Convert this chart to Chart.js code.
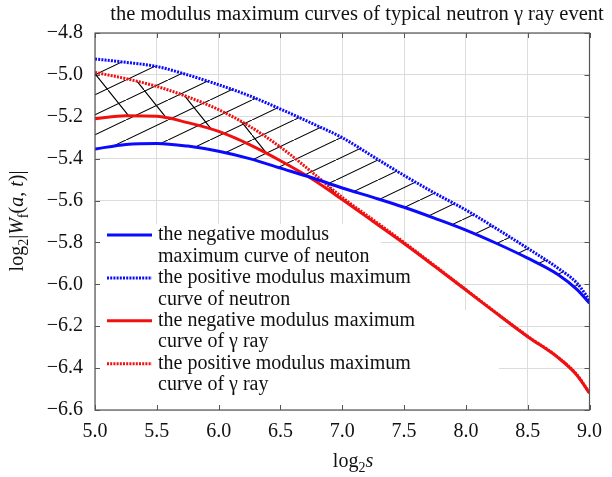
<!DOCTYPE html>
<html>
<head>
<meta charset="utf-8">
<script src="https://cdn.jsdelivr.net/npm/chart.js@4.4.1/dist/chart.umd.min.js"></script>
<style>
  html, body { margin: 0; padding: 0; background: #fff; }
  canvas { display: block; }
</style>
</head>
<body>
<canvas id="chart" width="612" height="477"></canvas>
<script>
// log2 s (scale) positions where the curves were read
const logScale = [5.0, 5.25, 5.5, 5.75, 6.0, 6.25, 6.5, 6.75, 7.0, 7.25, 7.5, 7.75, 8.0, 8.25, 8.5, 8.75, 8.9, 9.0];

// log2|Wf(a,t)|
const negNeutron = [-5.354, -5.332, -5.327, -5.340, -5.365, -5.400, -5.445, -5.490, -5.540, -5.585, -5.632, -5.685, -5.741, -5.805, -5.875, -5.955, -6.025, -6.090];
const posNeutron = [-4.924, -4.940, -4.960, -5.000, -5.047, -5.100, -5.163, -5.230, -5.300, -5.390, -5.480, -5.565, -5.645, -5.735, -5.828, -5.925, -5.995, -6.075];
const negGamma   = [-5.210, -5.195, -5.198, -5.228, -5.270, -5.333, -5.410, -5.495, -5.595, -5.700, -5.805, -5.915, -6.027, -6.140, -6.250, -6.352, -6.435, -6.520];
const posGamma   = [-4.988, -5.018, -5.055, -5.105, -5.166, -5.245, -5.345, -5.462, -5.585, -5.692, -5.800, -5.912, -6.025, -6.138, -6.248, -6.350, -6.433, -6.518];

const xTickValues = [5.0, 5.5, 6.0, 6.5, 7.0, 7.5, 8.0, 8.5, 9.0];
const yTickValues = [-6.6, -6.4, -6.2, -6.0, -5.8, -5.6, -5.4, -5.2, -5.0, -4.8];

const legendText = [
  ['the negative modulus', 'maximum curve of neuton'],
  ['the positive modulus maximum', 'curve of neutron'],
  ['the negative modulus maximum', 'curve of \u03b3 ray'],
  ['the positive modulus maximum', 'curve of \u03b3 ray']
];
const chartTitle = 'the modulus maximum curves of typical neutron \u03b3 ray event';

const FONT = '"Liberation Serif", "Times New Roman", serif';
const BLUE = '#0a0aff';
const RED = '#f01010';

const canvas = document.getElementById('chart');
const ctx0 = canvas.getContext('2d');

// diagonal hatch tiles for the filled bands
function makeHatch(w, h, rising) {
  const c = document.createElement('canvas');
  c.width = w; c.height = h;
  const g = c.getContext('2d');
  g.strokeStyle = '#000';
  g.lineWidth = 1.1;
  g.beginPath();
  for (const k of [-1, 0, 1]) {
    if (rising) { g.moveTo(k * w, h - k * h); g.lineTo(w + k * w, -k * h); }
    else { g.moveTo(k * w, k * h); g.lineTo(w + k * w, h + k * h); }
  }
  g.stroke();
  return ctx0.createPattern(c, 'repeat');
}
const neutronHatch = makeHatch(42, 20, true);
const gammaHatch = makeHatch(36, 45, false);

const toXY = arr => logScale.map((x, i) => ({ x, y: arr[i] }));

// draws text pieces with italics / subscripts, centred on (x, y)
function drawRich(ctx, parts, x, y, size) {
  const fontOf = p => `${p.it ? 'italic ' : ''}${p.sub ? Math.round(size * 0.68) : size}px ${FONT}`;
  let total = 0;
  parts.forEach(p => { ctx.font = fontOf(p); p.w = ctx.measureText(p.t).width; total += p.w; });
  let cx = x - total / 2;
  ctx.textAlign = 'left';
  ctx.textBaseline = 'middle';
  parts.forEach(p => {
    ctx.font = fontOf(p);
    ctx.fillText(p.t, cx, y + (p.sub ? size * 0.3 : 0));
    cx += p.w;
  });
}

const decorPlugin = {
  id: 'decor',
  beforeDatasetsDraw(chart) {
    const { ctx, chartArea: a } = chart;
    ctx.save();
    // legend background hides the grid
    ctx.fillStyle = '#fff';
    ctx.fillRect(a.left + 1, 224, 380 - a.left, 22);
    ctx.fillRect(a.left + 1, 246, 452 - a.left, 64);
    ctx.fillRect(a.left + 1, 310, 498 - a.left, a.bottom - 311);

    // inward tick marks on all four sides
    ctx.strokeStyle = '#555';
    ctx.lineWidth = 1;
    ctx.beginPath();
    chart.scales.x.ticks.forEach(t => {
      const px = Math.round(chart.scales.x.getPixelForValue(t.value)) + 0.5;
      ctx.moveTo(px, a.bottom); ctx.lineTo(px, a.bottom - 5);
      ctx.moveTo(px, a.top); ctx.lineTo(px, a.top + 5);
    });
    chart.scales.y.ticks.forEach(t => {
      const py = Math.round(chart.scales.y.getPixelForValue(t.value)) + 0.5;
      ctx.moveTo(a.left, py); ctx.lineTo(a.left + 5, py);
      ctx.moveTo(a.right, py); ctx.lineTo(a.right - 5, py);
    });
    ctx.stroke();

    // legend
    chart.data.datasets.forEach((ds, i) => {
      const y0 = 235 + i * 42.9;
      ctx.strokeStyle = ds.borderColor;
      ctx.lineWidth = ds.borderWidth;
      ctx.setLineDash(ds.borderDash || []);
      ctx.beginPath();
      ctx.moveTo(107, y0); ctx.lineTo(152, y0);
      ctx.stroke();
      ctx.setLineDash([]);
      ctx.fillStyle = '#111';
      ctx.font = `20px ${FONT}`;
      ctx.textAlign = 'left';
      ctx.textBaseline = 'middle';
      legendText[i].forEach((line, j) => ctx.fillText(line, 158, y0 + j * 21.4));
    });
    ctx.restore();
  },
  afterDraw(chart) {
    const { ctx, chartArea: a } = chart;
    ctx.save();
    ctx.strokeStyle = '#555';
    ctx.lineWidth = 1.2;
    ctx.strokeRect(a.left, a.top, a.right - a.left, a.bottom - a.top);

    ctx.fillStyle = '#111';
    ctx.font = `20.5px ${FONT}`;
    ctx.textAlign = 'center';
    ctx.textBaseline = 'middle';
    ctx.fillText(chartTitle, 357, 15);

    drawRich(ctx, [{ t: 'log' }, { t: '2', sub: true }, { t: 's', it: true }], 353, 462, 20);

    ctx.translate(18, 221);
    ctx.rotate(-Math.PI / 2);
    drawRich(ctx, [
      { t: 'log' }, { t: '2', sub: true }, { t: '|' }, { t: 'W', it: true }, { t: 'f', sub: true },
      { t: '(' }, { t: 'a', it: true }, { t: ', ' }, { t: 't', it: true }, { t: ')|' }
    ], 0, 0, 20);
    ctx.restore();
  }
};

new Chart(canvas, {
  type: 'line',
  data: {
    datasets: [
      { label: legendText[0].join(' '), data: toXY(negNeutron), borderColor: BLUE, borderWidth: 3, fill: false, order: 1 },
      { label: legendText[1].join(' '), data: toXY(posNeutron), borderColor: BLUE, borderWidth: 3, borderDash: [2, 1.2],
        fill: { target: 0 }, backgroundColor: neutronHatch, order: 4 },
      { label: legendText[2].join(' '), data: toXY(negGamma), borderColor: RED, borderWidth: 3, fill: false, order: 2 },
      { label: legendText[3].join(' '), data: toXY(posGamma), borderColor: RED, borderWidth: 3, borderDash: [2, 1.2],
        fill: { target: 2 }, backgroundColor: gammaHatch, order: 3 }
    ]
  },
  options: {
    responsive: false,
    animation: false,
    devicePixelRatio: 1,
    layout: { padding: { top: 33, right: 14, left: 0, bottom: 0 } },
    elements: {
      line: { cubicInterpolationMode: 'monotone', borderCapStyle: 'butt' },
      point: { radius: 0 }
    },
    plugins: {
      legend: { display: false },
      title: { display: false },
      tooltip: { enabled: false }
    },
    scales: {
      x: {
        type: 'linear', min: 5, max: 9,
        afterBuildTicks: s => { s.ticks = xTickValues.map(v => ({ value: v })); },
        afterFit: s => { s.height = 67; },
        ticks: { callback: v => v.toFixed(1), font: { family: FONT, size: 20 }, color: '#111', padding: 10, maxRotation: 0, autoSkip: false },
        grid: { color: '#dcdcdc', drawTicks: false },
        border: { display: false }
      },
      y: {
        type: 'linear', min: -6.6, max: -4.8,
        afterBuildTicks: s => { s.ticks = yTickValues.map(v => ({ value: v })); },
        afterFit: s => { s.width = 95; },
        ticks: { callback: v => (v < 0 ? '\u2212' : '') + Math.abs(v).toFixed(1), font: { family: FONT, size: 20 }, color: '#111', padding: 12, autoSkip: false },
        grid: { color: '#dcdcdc', drawTicks: false },
        border: { display: false }
      }
    }
  },
  plugins: [decorPlugin]
});
</script>
</body>
</html>
